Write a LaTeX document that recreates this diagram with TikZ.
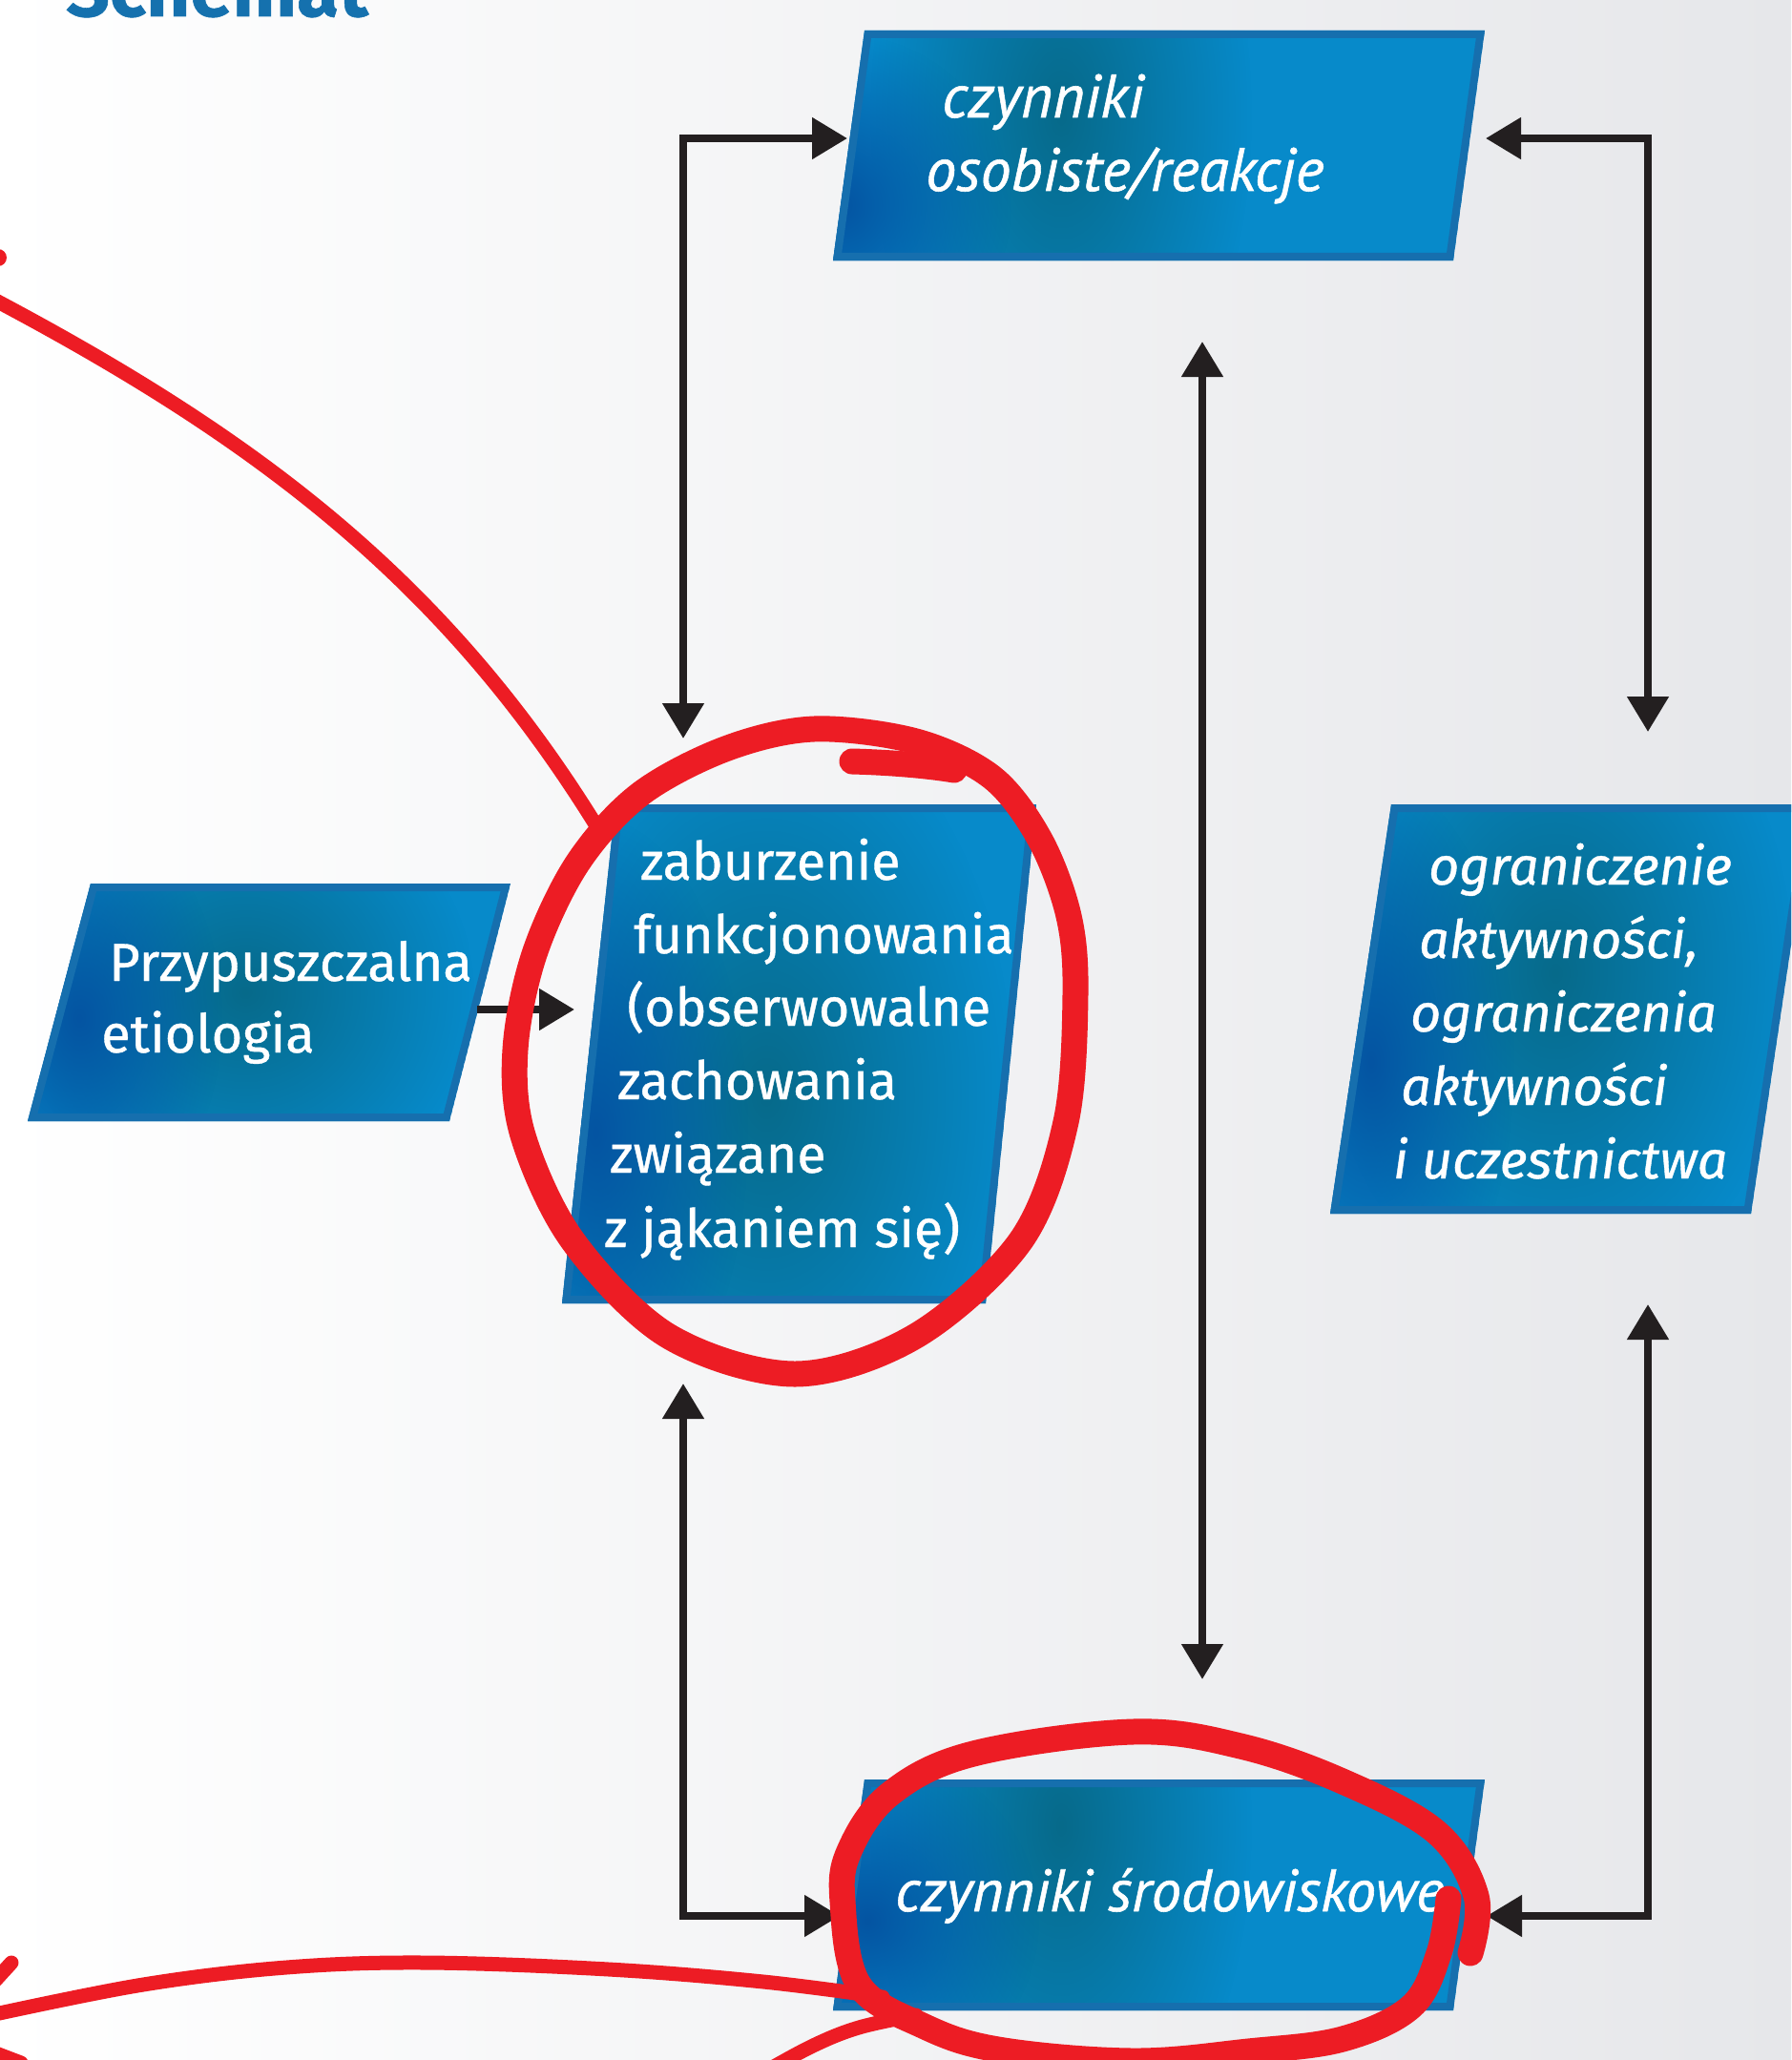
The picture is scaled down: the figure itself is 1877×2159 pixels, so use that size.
\documentclass[tikz,border=0pt]{standalone}
\usepackage{fontspec}
\setmainfont{Fira Sans}
\newfontfamily\boxfont[FakeBold=0.7]{Fira Sans}
\newfontfamily\ptfont[FakeBold=0.9]{PT Sans}
\usetikzlibrary{arrows.meta,fadings}
\definecolor{bggray}{HTML}{E6E7EA}
\definecolor{boxbase}{HTML}{078ACA}
\definecolor{boxteal}{HTML}{066A8A}
\definecolor{boxdark}{HTML}{0454A2}
\definecolor{boxedge}{HTML}{166FAE}
\definecolor{conncol}{HTML}{231F20}
\definecolor{redmark}{HTML}{ED1C24}
\definecolor{titleblue}{HTML}{1571AE}
\tikzfading[name=softdot, inner color=transparent!0, outer color=transparent!100]
% #1 TL #2 TR #3 BR #4 BL #5 teal centre #6 teal radii #7 dark centre #8 dark radii
\newcommand\bluebox[8]{%
  \begin{scope}
    \clip #1 -- #2 -- #3 -- #4 -- cycle;
    \fill[boxbase] #1 -- #2 -- #3 -- #4 -- cycle;
    \fill[boxteal, path fading=softdot] #5 ellipse (#6);
    \fill[boxdark, path fading=softdot] #7 ellipse (#8);
    \draw[boxedge, line width=16pt] #1 -- #2 -- #3 -- #4 -- cycle;
  \end{scope}}
\tikzset{
  txt/.style={text=white, inner sep=0pt, anchor=base west},
  lefttxt/.style={txt, font=\boxfont\fontsize{56}{60}\selectfont},
  midtxt/.style={txt, font=\boxfont\fontsize{55.5}{60}\selectfont},
  ittxt/.style={txt, font=\boxfont\itshape\fontsize{55.5}{60}\selectfont},
  condtxt/.style={txt, font=\ptfont\itshape\fontsize{64}{66}\selectfont},
  condtxtb/.style={txt, font=\ptfont\itshape\fontsize{62.5}{66}\selectfont},
  conn/.style={draw=conncol, line width=8pt,
    >={Triangle[length=37pt,width=42pt]}},
  redline/.style={draw=redmark, line width=15pt, line cap=round, line join=round},
  redring/.style={draw=redmark, line width=27pt, line cap=round, line join=round}
}
\begin{document}
\begin{tikzpicture}[x=1pt,y=-1pt]
\useasboundingbox (0,0) rectangle (1877,2159);
\clip (0,0) rectangle (1877,2159);
\shade[left color=white, right color=bggray] (0,0) rectangle (1877,2159);

% title
\node[anchor=base west, inner sep=0pt, text=titleblue,
  font=\boxfont\bfseries\fontsize{80}{80}\selectfont] (title) at (69,17) {Schemat};

% boxes
\bluebox{(906,32)}{(1556,32)}{(1523,273)}{(873,273)}{(1112,120)}{200 and 380}{(880,215)}{180 and 180}
\bluebox{(95,926)}{(535,926)}{(471,1175)}{(29,1175)}{(257,1040)}{240 and 230}{(83,1067)}{150 and 220}
\bluebox{(645,843)}{(1086,843)}{(1033,1366)}{(589,1366)}{(803,1147)}{260 and 420}{(624,1187)}{160 and 330}
\bluebox{(1458,843)}{(1899,843)}{(1835,1272)}{(1394,1272)}{(1630,1020)}{250 and 360}{(1437,1113)}{150 and 300}
\bluebox{(906,1865)}{(1556,1865)}{(1523,2107)}{(873,2107)}{(1112,1913)}{200 and 380}{(909,2013)}{180 and 180}

% texts
\node[condtxt] (osob1) at (987,123) {czynniki};
\node[condtxt] (osob2) at (970,200) {osobiste/reakcje};
\node[condtxtb] (srod1) at (938,2003) {czynniki środowiskowe};
\node[lefttxt] (etio1) at (114,1028) {Przypuszczalna};
\node[lefttxt] (etio2) at (106,1103) {etiologia};
\node[midtxt] (zab1) at (671,922) {zaburzenie};
\node[midtxt] (zab2) at (664,999) {funkcjonowania};
\node[midtxt] (zab3) at (657,1075) {(obserwowalne};
\node[midtxt] (zab4) at (647,1152) {zachowania};
\node[midtxt] (zab5) at (639,1229) {związane};
\node[midtxt] (zab6) at (633,1307) {z jąkaniem się)};
\node[ittxt] (ogr1) at (1497,927) {ograniczenie};
\node[ittxt] (ogr2) at (1487,1004) {aktywności,};
\node[ittxt] (ogr3) at (1478,1081) {ograniczenia};
\node[ittxt] (ogr4) at (1468,1158) {aktywności};
\node[ittxt] (ogr5) at (1460,1235) {i uczestnictwa};

% connector ends
\coordinate (osob-w) at (888,145);
\coordinate (osob-e) at (1557,145);
\coordinate (osob-s) at (1260,358);
\coordinate (zab-n) at (716,774);
\coordinate (zab-w) at (602,1058);
\coordinate (zab-s) at (716,1450);
\coordinate (etio-e) at (500,1058);
\coordinate (ogr-n) at (1727,767);
\coordinate (ogr-s) at (1727,1367);
\coordinate (srod-n) at (1260,1760);
\coordinate (srod-w) at (880,2008);
\coordinate (srod-e) at (1558,2008);

\draw[conn,<->] (osob-w) -| (zab-n);
\draw[conn,<->] (osob-e) -| (ogr-n);
\draw[conn,<->] (osob-s) -- (srod-n);
\draw[conn,->] (etio-e) -- (zab-w);
\draw[conn,<->] (zab-s) |- (srod-w);
\draw[conn,<->] (ogr-s) |- (srod-e);

% red annotations
\fill[redmark] (-2,270) circle (9);
\draw[redline] (-10,312) .. controls (270,460) and (470,610) .. (632,877);
\draw[redring] plot[smooth cycle, tension=0.55] coordinates {(853,764) (960,777) (1040,815) (1090,880) (1120,960) (1127,1042) (1117,1176) (1070,1300) (960,1400) (833,1440) (700,1400) (600,1300) (548,1190) (540,1100) (560,1000) (605,905) (670,833) (760,785)};
\draw[redring] (893,798) .. controls (930,799) and (970,802) .. (1000,807);
\draw[redring] plot[smooth, tension=0.6] coordinates {(1541,2047) (1547,1987) (1505,1920) (1407,1867) (1300,1830) (1187,1815) (1020,1838) (933,1880) (890,1940) (883,1993) (900,2080) (967,2123) (1046,2148) (1187,2160) (1308,2150) (1407,2137) (1479,2103) (1508,2047) (1518,1990)};
\draw[redline] plot[smooth, tension=0.6] coordinates {(-10,2112) (150,2080) (300,2062) (446,2057) (638,2064) (800,2077) (925,2093)};
\draw[redline] plot[smooth, tension=0.6] coordinates {(790,2178) (850,2145) (900,2125) (960,2112)};
\draw[redline] (12,2057) -- (-20,2092);
\draw[redline] (-20,2146) -- (22,2162);
\end{tikzpicture}
\end{document}
